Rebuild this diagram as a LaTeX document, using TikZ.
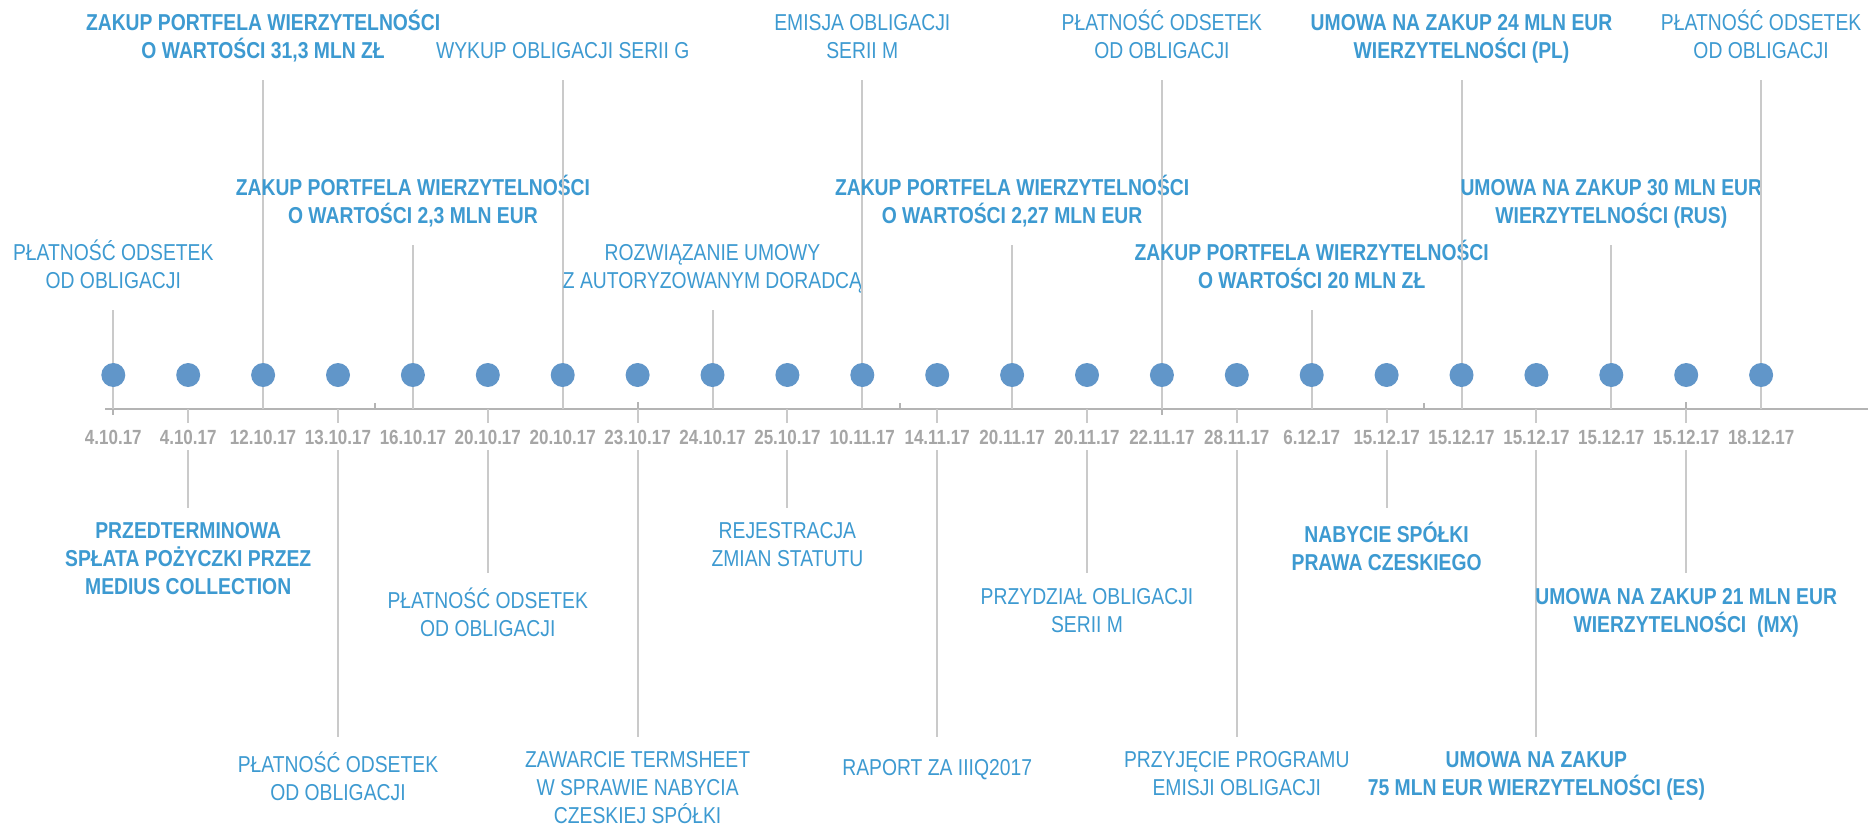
\documentclass[tikz,border=0pt]{standalone}
\usepackage{fontspec}
\setmainfont{Liberation Sans}
\newfontfamily\regf{Liberation Sans}[FakeStretch=0.84]
\newfontfamily\boldf{Liberation Sans}[FakeStretch=0.84]
\newfontfamily\datef{Liberation Sans}[FakeStretch=0.83]
\definecolor{txtblue}{RGB}{61,154,209}
\definecolor{dotblue}{RGB}{97,150,201}
\definecolor{dategray}{RGB}{166,166,166}
\definecolor{linegray}{RGB}{202,202,202}
\definecolor{axisgray}{RGB}{180,180,180}
\tikzset{
  lbl/.style={align=center, text=txtblue, inner sep=0pt, font=\regf\fontsize{23}{28}\selectfont},
  blbl/.style={lbl, font=\boldf\bfseries\fontsize{23}{28}\selectfont},
  toplbl/.style={anchor=south, text depth=0pt},
  botlbl/.style={anchor=north, execute at begin node={\rule{0pt}{24pt}}},
  evline/.style={draw=linegray, line width=2pt},
  evdot/.style={circle, fill=dotblue, minimum size=24pt, inner sep=0pt},
  datelbl/.style={fill=white, text=dategray, font=\datef\bfseries\fontsize{20.5}{24}\selectfont,
    text height=14.7pt, text depth=0pt, inner xsep=1.5pt, inner ysep=6pt},
  axline/.style={draw=axisgray, line width=2.7pt},
  axtick/.style={draw=axisgray, line width=2pt}
}
\newcommand\evx[1]{{113.3+74.9*#1}}
\newcommand\evtop[5]{%
  \path (\evx{#1},#3) coordinate (e#1) (\evx{#1},409) coordinate (a#1);
  \draw[evline] (e#1) -- (a#1);
  \node[evdot] (d#1) at (\evx{#1},375) {};
  \node[datelbl] (t#1) at (\evx{#1},436.7) {#2};
  \node[#4, toplbl] (l#1) at ([yshift=21pt]e#1) {#5};
}
\newcommand\evbot[5]{%
  \path (\evx{#1},#3) coordinate (e#1) (\evx{#1},409) coordinate (a#1);
  \draw[evline] (a#1) -- (e#1);
  \node[evdot] (d#1) at (\evx{#1},375) {};
  \node[datelbl] (t#1) at (\evx{#1},436.7) {#2};
  \node[#4, botlbl] (l#1) at ([yshift=-14.5pt]e#1) {#5};
}
\begin{document}
\begin{tikzpicture}[x=1pt,y=-1pt]
\fill[white] (0,0) rectangle (1868,833);
\useasboundingbox (0,0) rectangle (1868,833);
% axis
\coordinate (axL) at (105,409);
\coordinate (axR) at (1868,409);
\draw[axline] (axL) -- (axR);
\foreach \k/\n in {0/p,7/q,14/r,21/s}{
  \coordinate (mt\n a) at (\evx{\k},402);
  \coordinate (mt\n b) at (\evx{\k},415);
  \draw[axtick] (mt\n a) -- (mt\n b);
}
\foreach \k/\n in {3.5/p,10.5/q,17.5/r}{
  \coordinate (nt\n a) at (\evx{\k},403);
  \coordinate (nt\n b) at (\evx{\k},409);
  \draw[axtick] (nt\n a) -- (nt\n b);
}
% events
\evtop{0}{4.10.17}{310}{lbl}{PŁATNOŚĆ ODSETEK\\OD OBLIGACJI}
\evbot{1}{4.10.17}{507.7}{blbl}{PRZEDTERMINOWA\\SPŁATA POŻYCZKI PRZEZ\\MEDIUS COLLECTION}
\evtop{2}{12.10.17}{80}{blbl}{ZAKUP PORTFELA WIERZYTELNOŚCI\\O WARTOŚCI 31,3 MLN ZŁ}
\evbot{3}{13.10.17}{736.7}{lbl}{PŁATNOŚĆ ODSETEK\\OD OBLIGACJI}
\evtop{4}{16.10.17}{245}{blbl}{ZAKUP PORTFELA WIERZYTELNOŚCI\\O WARTOŚCI 2,3 MLN EUR}
\evbot{5}{20.10.17}{573.3}{lbl}{PŁATNOŚĆ ODSETEK\\OD OBLIGACJI}
\evtop{6}{20.10.17}{80}{lbl}{WYKUP OBLIGACJI SERII G}
\evbot{7}{23.10.17}{736.7}{lbl}{ZAWARCIE TERMSHEET\\W SPRAWIE NABYCIA\\CZESKIEJ SPÓŁKI}
\evtop{8}{24.10.17}{310}{lbl}{ROZWIĄZANIE UMOWY\\Z AUTORYZOWANYM DORADCĄ}
\evbot{9}{25.10.17}{507.7}{lbl}{REJESTRACJA\\ZMIAN STATUTU}
\evtop{10}{10.11.17}{80}{lbl}{EMISJA OBLIGACJI\\SERII M}
\evbot{11}{14.11.17}{736.7}{lbl}{RAPORT ZA IIIQ2017}
\evtop{12}{20.11.17}{245}{blbl}{ZAKUP PORTFELA WIERZYTELNOŚCI\\O WARTOŚCI 2,27 MLN EUR}
\evbot{13}{20.11.17}{573.3}{lbl}{PRZYDZIAŁ OBLIGACJI\\SERII M}
\evtop{14}{22.11.17}{80}{lbl}{PŁATNOŚĆ ODSETEK\\OD OBLIGACJI}
\evbot{15}{28.11.17}{736.7}{lbl}{PRZYJĘCIE PROGRAMU\\EMISJI OBLIGACJI}
\evtop{16}{6.12.17}{310}{blbl}{ZAKUP PORTFELA WIERZYTELNOŚCI\\O WARTOŚCI 20 MLN ZŁ}
\evbot{17}{15.12.17}{507.7}{blbl}{NABYCIE SPÓŁKI\\PRAWA CZESKIEGO}
\evtop{18}{15.12.17}{80}{blbl}{UMOWA NA ZAKUP 24 MLN EUR\\WIERZYTELNOŚCI (PL)}
\evbot{19}{15.12.17}{736.7}{blbl}{UMOWA NA ZAKUP\\75 MLN EUR WIERZYTELNOŚCI (ES)}
\evtop{20}{15.12.17}{245}{blbl}{UMOWA NA ZAKUP 30 MLN EUR\\WIERZYTELNOŚCI (RUS)}
\evbot{21}{15.12.17}{573.3}{blbl}{UMOWA NA ZAKUP 21 MLN EUR\\WIERZYTELNOŚCI~ (MX)}
\evtop{22}{18.12.17}{80}{lbl}{PŁATNOŚĆ ODSETEK\\OD OBLIGACJI}
\end{tikzpicture}
\end{document}
